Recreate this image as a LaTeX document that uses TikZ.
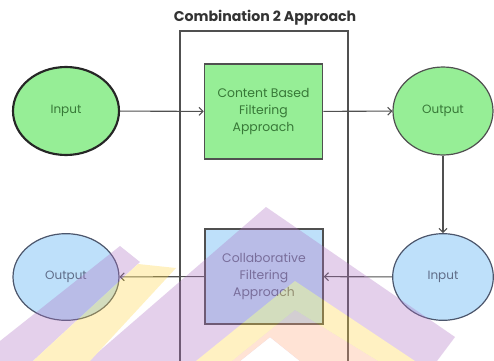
\documentclass[tikz,border=0pt]{standalone}
\usepackage{fontspec}
\setmainfont{Poppins}
\usetikzlibrary{shapes.geometric,arrows.meta}
\definecolor{gfill}{RGB}{150,238,150}
\definecolor{bfill}{RGB}{190,224,250}
\definecolor{gtext}{RGB}{55,120,55}
\definecolor{btext}{RGB}{95,108,135}
\definecolor{lineg}{RGB}{80,80,80}
\definecolor{wmp}{RGB}{175,115,195}
\definecolor{wmy}{RGB}{255,215,70}
\definecolor{wmo}{RGB}{255,170,130}
\begin{document}
\begin{tikzpicture}[x=0.75pt,y=-0.75pt,
  oval/.style={ellipse, draw, inner sep=0pt, line width=0.9pt, font=\fontsize{9}{13}\selectfont},
  procbox/.style={rectangle, draw=lineg, line width=1.2pt, inner sep=0pt,
    minimum width=88.5pt, minimum height=71pt, align=center,
    font=\fontsize{9.3}{13}\selectfont},
  conn/.style={draw=lineg, line width=0.8pt, -{Straight Barb[length=3pt,width=6pt]}}]
\useasboundingbox (0,0) rectangle (494,361);
\fill[white] (0,0) rectangle (494,361);

% frame
\draw[lineg, line width=0.9pt] (180,361) -- (180,31) -- (348,31) -- (348,361);
\node[font=\bfseries\fontsize{10.6}{12}\selectfont, text=black!80] (title) at (265,18) {Combination 2 Approach};

% nodes
\node[oval, fill=gfill, draw=black!85, line width=1.6pt, minimum width=79.5pt, minimum height=66pt, text=gtext] (inG) at (66,111) {Input};
\node[procbox, fill=gfill, text=gtext] (cb) at (263.5,111.5) {Content Based\\Filtering\\Approach};
\node[oval, fill=gfill, draw=lineg, minimum width=75pt, minimum height=66pt, text=gtext] (outG) at (443,111) {Output};
\node[oval, fill=bfill, draw=btext!80!black, minimum width=75.5pt, minimum height=65pt, text=btext] (inB) at (443,277) {Input};
\node[procbox, fill=bfill, text=btext] (cf) at (264,276.5) {Collaborative\\Filtering\\Approach};
\node[oval, fill=bfill, draw=btext!80!black, minimum width=79.5pt, minimum height=65pt, text=btext] (outB) at (66,277) {Output};

% connectors
\draw[conn] (inG) -- (cb);
\draw[conn] (cb) -- (outG);
\draw[conn] (outG) -- (inB);
\draw[conn] (inB) -- (cf);
\draw[conn] (cf) -- (outB);

% watermark
\begin{scope}[transparency group, opacity=0.33]
  \fill[wmp] (88,361) -- (266,207) -- (455,337) -- (437,361) -- (300,361) -- (270,337) -- (240,361) -- cycle;
  \fill[wmo] (232,361) -- (295,310) -- (378,361) -- (300,361) -- (270,337) -- (240,361) -- cycle;
  \fill[wmy] (196,361) -- (295,281) -- (415,361) -- (378,361) -- (295,310) -- (232,361) -- cycle;
  \fill[wmp] (0,341) -- (120,246) -- (140,262) -- (33,361) -- (0,361) -- cycle;
  \fill[wmy] (33,361) -- (138,264) -- (176,268) -- (90,361) -- cycle;
\end{scope}
\end{tikzpicture}
\end{document}
